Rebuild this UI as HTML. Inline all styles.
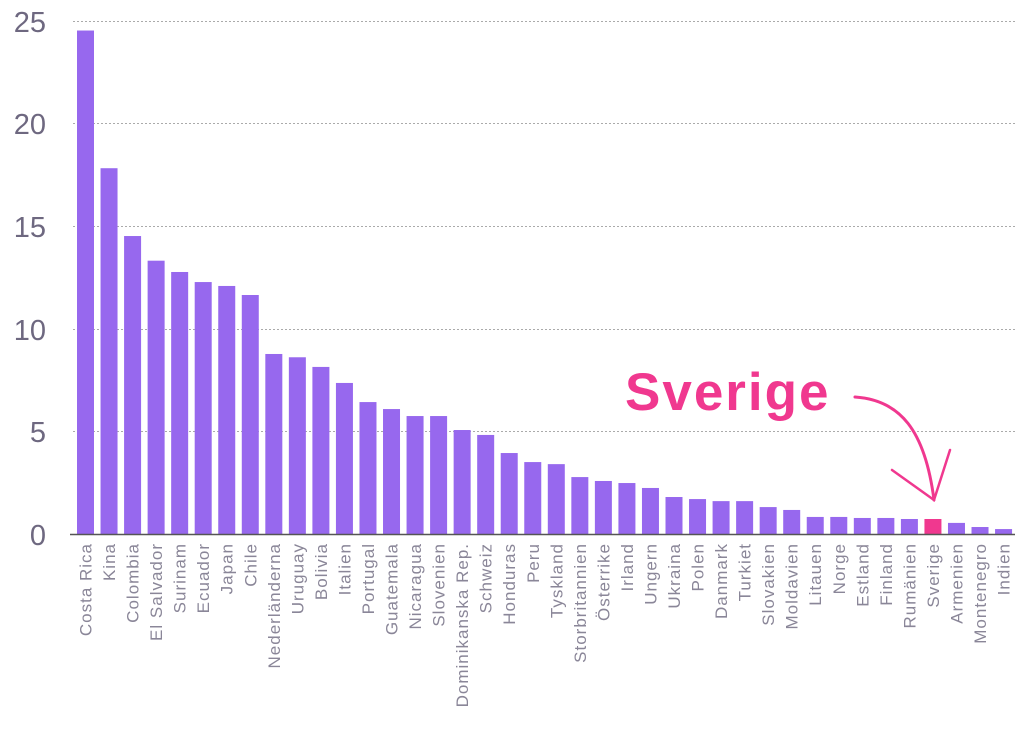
<!DOCTYPE html><html><head><meta charset="utf-8"><style>body{margin:0;background:#fff}svg{display:block}</style></head><body>
<svg width="1024" height="730" xmlns="http://www.w3.org/2000/svg" font-family="Liberation Sans, sans-serif">
<g stroke="#aaa" stroke-dasharray="2,2" stroke-width="1">
<line x1="73" x2="1015" y1="21.5" y2="21.5"/><line x1="73" x2="1015" y1="123.5" y2="123.5"/><line x1="73" x2="1015" y1="226.5" y2="226.5"/><line x1="73" x2="1015" y1="329.5" y2="329.5"/><line x1="73" x2="1015" y1="431.5" y2="431.5"/></g>
<g fill="#6e6880" font-size="29" text-anchor="end">
<text x="46" y="32">25</text><text x="46" y="134">20</text><text x="46" y="237">15</text><text x="46" y="340">10</text><text x="46" y="442">5</text><text x="46" y="545">0</text></g>
<g id="bars"></g>
<line x1="70" x2="1015" y1="534.5" y2="534.5" stroke="#555" stroke-width="1.5"/>
<g id="labels" fill="#8a8698" font-size="17" letter-spacing="1" text-anchor="end"></g>
<text x="625" y="410" fill="#f0388f" font-size="53" font-weight="bold" letter-spacing="2">Sverige</text>
<g fill="none" stroke="#f0388f" stroke-width="3" stroke-linecap="round">
<path d="M855 397 C 900 400, 925 430, 934 500"/>
<path d="M950 450 L934 500 L892 470" stroke-width="2.5"/></g>
<script>
var d=[["Costa Rica",24.5],["Kina",17.8],["Colombia",14.5],["El Salvador",13.3],["Surinam",12.75],["Ecuador",12.26],["Japan",12.07],["Chile",11.63],["Nederländerna",8.76],["Uruguay",8.6],["Bolivia",8.13],["Italien",7.35],["Portugal",6.42],["Guatemala",6.08],["Nicaragua",5.74],["Slovenien",5.74],["Dominikanska Rep.",5.06],["Schweiz",4.82],["Honduras",3.94],["Peru",3.5],["Tyskland",3.4],["Storbritannien",2.77],["Österrike",2.58],["Irland",2.48],["Ungern",2.24],["Ukraina",1.8],["Polen",1.7],["Danmark",1.6],["Turkiet",1.6],["Slovakien",1.31],["Moldavien",1.17],["Litauen",0.83],["Norge",0.83],["Estland",0.78],["Finland",0.78],["Rumänien",0.73],["Sverige",0.73],["Armenien",0.54],["Montenegro",0.34],["Indien",0.24]];
var ns="http://www.w3.org/2000/svg",b=document.getElementById("bars"),l=document.getElementById("labels");
d.forEach(function(e,i){var x=77+i*23.54,h=e[1]*20.55;var r=document.createElementNS(ns,"rect");r.setAttribute("x",x);r.setAttribute("y",534-h);r.setAttribute("width",17);r.setAttribute("height",h);r.setAttribute("fill",e[0]=="Sverige"?"#f0388f":"#9768ee");b.appendChild(r);
var t=document.createElementNS(ns,"text");var cx=x+8.5+6;t.setAttribute("transform","translate("+cx+",543) rotate(-90)");t.textContent=e[0];l.appendChild(t);});
</script>
</svg></body></html>
